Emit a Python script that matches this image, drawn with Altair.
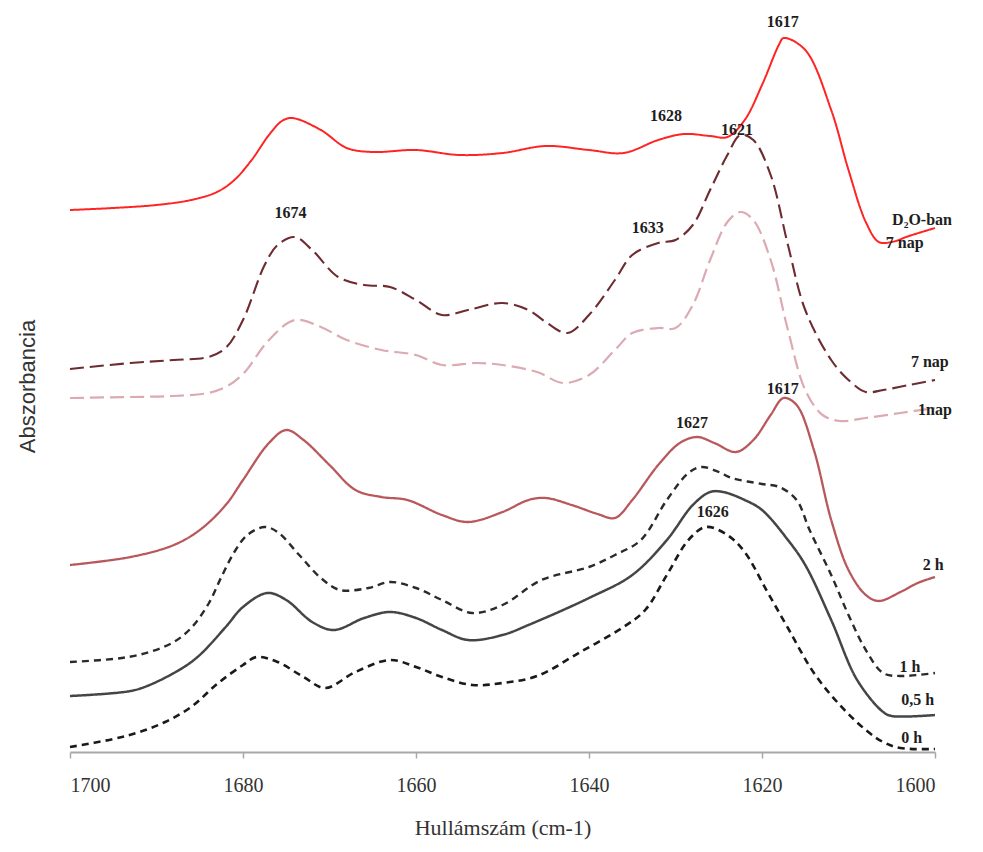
import altair as alt
import pandas as pd

series_names = ["D₂O-ban 7 nap", "7 nap", "1nap", "2 h", "1 h", "0,5 h", "0 h"]

d2o_wn = [1700, 1695, 1690, 1686, 1683, 1681, 1679, 1677, 1675.5, 1674.3, 1671, 1668, 1665, 1660, 1655, 1650, 1645,
          1640, 1636, 1632, 1629, 1626, 1624, 1622, 1620, 1618, 1617.5, 1615, 1612, 1610, 1608, 1606.5, 1605, 1603, 1600]
d2o_ab = [542, 544, 547, 552, 560, 572, 592, 617, 631, 634, 622, 604, 600, 602, 597, 599, 606,
          602, 599, 612, 618, 616, 615, 632, 667, 708, 714, 702, 642, 582, 530, 510, 510, 516, 524]

nap7_wn = [1700, 1693, 1688, 1684, 1682, 1680, 1677.5, 1676, 1674, 1672, 1669, 1666, 1663, 1660, 1657, 1654, 1650,
           1647, 1645, 1642.5, 1640, 1637, 1635, 1632, 1630, 1628, 1626, 1624, 1622.5, 1621, 1619, 1617, 1615,
           1612, 1610, 1608, 1606, 1603, 1600]
nap7_ab = [383, 389, 392, 395, 404, 432, 487, 507, 515, 502, 475, 467, 465, 452, 437, 442, 449,
           442, 430, 419, 437, 472, 497, 509, 512, 527, 562, 597, 617, 612, 577, 507, 442,
           392, 372, 360, 362, 367, 372]

nap1_wn = [1700, 1693, 1688, 1684, 1682, 1680, 1677, 1674, 1671, 1668, 1664, 1660, 1657, 1653, 1650, 1646, 1643,
           1640, 1637, 1635, 1632, 1630, 1628, 1626, 1624, 1622.5, 1621, 1619, 1617, 1615, 1613, 1611, 1608, 1604, 1600]
nap1_ab = [354, 355, 356, 359, 365, 378, 412, 432, 425, 412, 402, 397, 387, 389, 387, 380, 369,
           377, 402, 419, 424, 424, 447, 492, 530, 540, 532, 492, 422, 362, 337, 331, 334, 339, 344]

h2_wn = [1700, 1693, 1688, 1685, 1682, 1680, 1677, 1675, 1673, 1670, 1667, 1664, 1661, 1657, 1654, 1650, 1647,
         1645, 1642, 1639, 1637, 1635, 1632, 1629.5, 1627.5, 1625.5, 1623, 1621, 1619, 1617.5, 1616, 1614,
         1612, 1610, 1608, 1606.5, 1604, 1602, 1600]
h2_ab = [187, 195, 207, 222, 247, 272, 309, 322, 312, 287, 262, 255, 252, 237, 230, 240, 252,
         254, 247, 238, 234, 252, 287, 309, 315, 309, 300, 312, 337, 354, 347, 302,
         232, 182, 157, 151, 160, 169, 175]

h1_wn = [1700, 1694, 1690.8, 1688, 1686, 1684, 1682.5, 1681, 1679.5, 1677.5, 1676, 1673.5, 1671, 1668.8, 1665.5, 1663,
         1660, 1657, 1653.5, 1650, 1645.5, 1640, 1637, 1634, 1631, 1628.5, 1627, 1625, 1623.5, 1620, 1618,
         1616, 1614.5, 1612, 1610, 1608, 1606, 1604, 1600]
h1_ab = [90, 94, 100, 110, 124, 148, 175, 200, 217, 225, 220, 197, 174, 162, 164, 170,
         164, 152, 139, 147, 172, 185, 197, 212, 252, 279, 285, 280, 274, 268, 265,
         252, 222, 177, 137, 102, 79, 76, 79]

h05_wn = [1700, 1693, 1690.8, 1687, 1685, 1682, 1680, 1677.2, 1675, 1672, 1669.5, 1666, 1663, 1660, 1657, 1654,
          1650, 1647, 1640, 1635, 1631, 1628, 1626, 1624.5, 1622, 1620, 1617, 1615, 1612, 1609, 1606, 1605, 1600]
h05_ab = [56, 61, 67, 84, 97, 125, 145, 159, 152, 130, 122, 134, 140, 134, 122, 112,
          117, 127, 154, 177, 212, 247, 260, 260, 252, 242, 212, 187, 132, 72, 40, 36, 37]

h0_wn = [1700, 1695, 1692, 1689, 1686, 1683, 1680, 1678.4, 1676, 1673, 1670.5, 1667, 1663, 1660, 1657, 1653.5, 1650,
         1646, 1641, 1636, 1633.5, 1631, 1628.5, 1626.5, 1624, 1622, 1619.5, 1617, 1614, 1611, 1608, 1606, 1604, 1600]
h0_ab = [5, 13, 20, 30, 45, 68, 87, 95, 90, 75, 64, 80, 92, 85, 75, 67, 69,
         76, 100, 125, 142, 177, 212, 225, 217, 200, 162, 124, 79, 47, 22, 10, 4, 3]

series_wn = [d2o_wn, nap7_wn, nap1_wn, h2_wn, h1_wn, h05_wn, h0_wn]
series_ab = [d2o_ab, nap7_ab, nap1_ab, h2_ab, h1_ab, h05_ab, h0_ab]

series_colors = ["#ff2424", "#6e2b30", "#dcaab2", "#b9585c", "#2a2a2a", "#454545", "#1a1a1a"]
series_dash = [[1, 0], [14, 6], [14, 6], [1, 0], [7, 5], [1, 0], [7, 5]]
series_width = [2.0, 2.6, 2.0, 1.8, 2.2, 1.8, 2.2]

peak_text = ["1617", "1628", "1621", "1674", "1633", "1627", "1617", "1626"]
peak_wn = [1617.6, 1631.1, 1622.9, 1674.5, 1633.2, 1628.1, 1617.6, 1625.7]
peak_ab = [730, 636, 622, 539, 524, 329, 363, 240]

end_text = ["D₂O-ban", "7 nap", "7 nap", "1nap", "2 h", "1 h", "0,5 h", "0 h"]
end_wn = [1601.5, 1603.5, 1600.6, 1600.0, 1600.2, 1602.9, 1602.0, 1602.7]
end_ab = [532, 509, 390, 342, 187, 85, 52, 14]

rows = []
for name, wns, abs_ in zip(series_names, series_wn, series_ab):
    for w, a in zip(wns, abs_):
        rows.append({"series": name, "wn": w, "ab": a})
df = pd.DataFrame(rows)

labels_df = pd.DataFrame({"text": peak_text + end_text, "wn": peak_wn + end_wn, "ab": peak_ab + end_ab})

x_scale = alt.Scale(domain=[1700, 1600], nice=False, zero=False)
y_scale = alt.Scale(domain=[0, 744], nice=False, zero=False)

lines = alt.Chart(df).mark_line(interpolate="catmull-rom").encode(
    x=alt.X("wn:Q", scale=x_scale,
            axis=alt.Axis(values=[1700, 1680, 1660, 1640, 1620, 1600], title="Hullámszám (cm-1)",
                          grid=False, format="d")),
    y=alt.Y("ab:Q", scale=y_scale,
            axis=alt.Axis(title="Abszorbancia", labels=False, ticks=False, domain=False, grid=False)),
    color=alt.Color("series:N", scale=alt.Scale(domain=series_names, range=series_colors), legend=None),
    strokeDash=alt.StrokeDash("series:N", scale=alt.Scale(domain=series_names, range=series_dash), legend=None),
    strokeWidth=alt.StrokeWidth("series:N", scale=alt.Scale(domain=series_names, range=series_width), legend=None),
)

texts = alt.Chart(labels_df).mark_text(
    font="Liberation Serif", fontWeight="bold", fontSize=16, color="#1e1e1e", baseline="middle", align="center"
).encode(
    x=alt.X("wn:Q", scale=x_scale),
    y=alt.Y("ab:Q", scale=y_scale),
    text="text:N",
)

chart = alt.layer(lines, texts).properties(
    width=865, height=744,
    autosize=alt.AutoSizeParams(type="none"),
    padding={"left": 62, "top": 0, "right": 40, "bottom": 88},
).configure_view(stroke=None).configure_axisX(
    domainColor="#a8a8a8", domainWidth=2, tickColor="#a8a8a8", tickSize=6, tickWidth=1.5,
    labelFont="Liberation Serif", labelFontSize=20, labelColor="#333333", labelPadding=17,
    titleFont="Liberation Serif", titleFontSize=22, titleFontWeight="normal", titleColor="#333333",
    titlePadding=22,
).configure_axisY(
    titleFont="Liberation Sans", titleFontSize=22, titleFontWeight="normal", titleColor="#333333",
    titlePadding=31, titleY=378,
)

chart.save("out.html", embed_options={"renderer": "svg", "actions": False})
